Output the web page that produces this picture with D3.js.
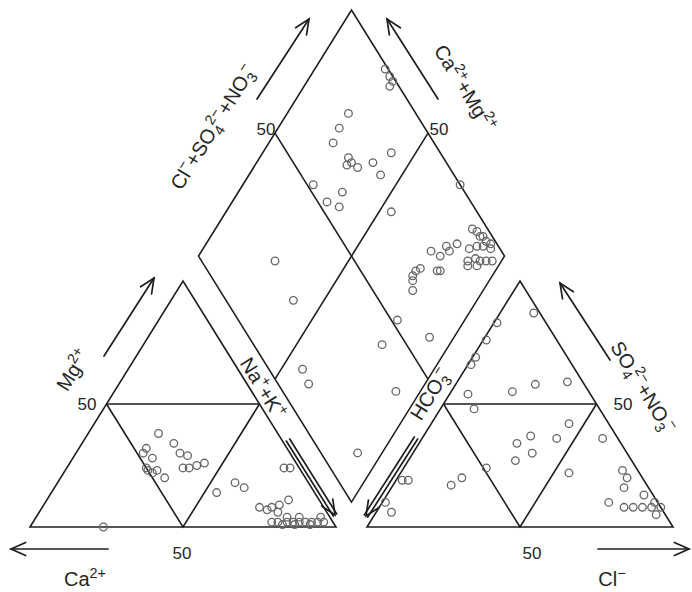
<!DOCTYPE html>
<html>
<head>
<meta charset="utf-8">
<script src="https://cdn.jsdelivr.net/npm/d3@7"></script>
<style>
  html, body { margin: 0; padding: 0; background: #fff; }
  svg { display: block; }
  text { font-family: "Liberation Sans", Arial, sans-serif; fill: #262626; }
</style>
</head>
<body>
<svg id="chart" width="692" height="592"></svg>
<script>
// Cation composition of each sample, % meq: [Ca2+, Mg2+]; Na+ + K+ is the remainder
const cations = [
  [39,38],[46,32],[36,34],[36,30],[34,29],[48,30],[46,28],[50,23],[49,22],[47,23],
  [50,24],[46,20],[38,24],[36,24],[33,25],[30,26],[32,14],[24,18],[22,16],[5,24],
  [3,24],[10,11],[19,7],[17,8],[16,6],[21,8],[14,9],[76,0],[3,4],[20,2],
  [18,2],[15,2],[13,2],[11,2],[9,2],[7,2],[5,2],[3,2],[13,1],[17,1],
  [8,1],[14,4],[10,4]
];
// Anion composition, % meq: [Cl-, SO4 2- + NO3-]; HCO3- is the remainder
const anions = [
  [11,87],[1,83],[1,76],[1,69],[1,66],[36,59],[26,58],[20,55],[6,54],[11,48],
  [45,42],[59,36],[35,37],[44,36],[32,34],[35,27],[39,30],[55,22],[27,24],[21,20],
  [19,17],[4,19],[2,19],[1,10],[5,6],[72,23],[75,20],[76,16],[74,10],[80,8],
  [83,8],[86,8],[89,8],[84,13],[89,10],[92,8],[92,5]
];
// Diamond field, %: [Ca2+ + Mg2+, Cl- + SO4 2- + NO3-]
const diamond = [
  [77,99],[74,99],[72,99],[72,97],[80,78],[80,72],[79,67],[71,69],[69,69],[66,70],
  [70,67],[62,76],[58,84],[57,76],[77,52],[66,60],[69,53],[64,56],[46,72],[29,100],
  [74,24],[60,22],[43,11],[38,10],[22,42],[22,52],[23,63],[8,59],[8,37],[8,12],
  [25,65],[26,68],[25,70],[26,66],[18,76],[25,77],[21,79],[21,83],[18,87],[19,83],
  [16,95],[14,96],[12,96],[11,97],[9,97],[7,98],[13,90],[11,93],[9,95],[6,97],
  [11,87],[9,90],[7,91],[5,93],[3,95],[10,86],[7,89],[19,75]
];
const tickLabels = ["50"];

// ---- layout ----
const side = 306, tall = 246, base = 527;
const leftX = 30, rightX = 367;
const bx = (leftX + side + rightX) / 2;
const by = base - (rightX - leftX - side) / 2 * tall / (side / 2);

const svg = d3.select("#chart");

// scales
const xCat = d3.scaleLinear().domain([0, 100]).range([leftX, leftX + side]);
const xAn  = d3.scaleLinear().domain([0, 100]).range([rightX, rightX + side]);
const yTri = d3.scaleLinear().domain([0, 100]).range([base, base - tall]);
const xDia = d3.scaleLinear().domain([-100, 100]).range([bx - side / 2, bx + side / 2]);
const yDia = d3.scaleLinear().domain([0, 200]).range([by, by - 2 * tall]);

const catXY = (ca, mg) => [xCat((100 - ca - mg) + mg / 2), yTri(mg)];
const anXY  = (cl, so) => [xAn(cl + so / 2), yTri(so)];
const diaXY = (cm, cs) => [xDia(cs - cm), yDia(cm + cs)];

const line = d3.line();
const frame = svg.append("g")
  .attr("fill", "none").attr("stroke", "#1e1e1e").attr("stroke-width", 1.6)
  .attr("stroke-linejoin", "miter");

// cation triangle
frame.append("path").attr("d", line([catXY(100,0), catXY(0,100), catXY(0,0)]) + "Z");
frame.append("path").attr("d", line([catXY(50,50), catXY(0,50)]));
frame.append("path").attr("d", line([catXY(50,50), catXY(50,0), catXY(0,50)]));
// anion triangle
frame.append("path").attr("d", line([anXY(0,0), anXY(0,100), anXY(100,0)]) + "Z");
frame.append("path").attr("d", line([anXY(0,50), anXY(50,50)]));
frame.append("path").attr("d", line([anXY(0,50), anXY(50,0), anXY(50,50)]));
// diamond
frame.append("path").attr("d", line([diaXY(0,0), diaXY(100,0), diaXY(100,100), diaXY(0,100)]) + "Z");
frame.append("path").attr("d", line([diaXY(50,0), diaXY(50,100)]));
frame.append("path").attr("d", line([diaXY(0,50), diaXY(100,50)]));

// samples
const pts = svg.append("g")
  .attr("fill", "none").attr("stroke", "#666").attr("stroke-width", 1.3);
const drawPts = (data, f) => pts.selectAll(null).data(data).enter().append("circle")
  .attr("cx", d => f(d[0], d[1])[0]).attr("cy", d => f(d[0], d[1])[1]).attr("r", 3.8);
drawPts(cations, catXY);
drawPts(anions, anXY);
drawPts(diamond, diaXY);

// ---- arrows ----
const arrows = svg.append("g").attr("fill", "none").attr("stroke", "#1e1e1e")
  .attr("stroke-width", 1.7).attr("stroke-linecap", "round");
function arrow(x1, y1, x2, y2, double) {
  const ang = Math.atan2(y2 - y1, x2 - x1), hl = 16, ha = 0.42;
  if (double) {
    const nx = -Math.sin(ang) * 2, ny = Math.cos(ang) * 2;
    arrows.append("path").attr("d", line([[x1 + nx, y1 + ny], [x2 + nx, y2 + ny]]));
    arrows.append("path").attr("d", line([[x1 - nx, y1 - ny], [x2 - nx, y2 - ny]]));
  } else {
    arrows.append("path").attr("d", line([[x1, y1], [x2, y2]]));
  }
  arrows.append("path").attr("d", line([
    [x2 - hl * Math.cos(ang - ha), y2 - hl * Math.sin(ang - ha)],
    [x2, y2],
    [x2 - hl * Math.cos(ang + ha), y2 - hl * Math.sin(ang + ha)]
  ]));
}
arrow(104, 356, 154, 278);        // Mg2+
arrow(108, 549, 11, 549);         // Ca2+
arrow(288, 440, 335, 515, true);  // Na+ + K+
arrow(416, 438, 366, 516, true);  // HCO3-
arrow(610, 360, 560, 283);        // SO4 2- + NO3-
arrow(598, 549, 689, 549);        // Cl-
arrow(257, 99, 309, 19);          // Cl- + SO4 2- + NO3-
arrow(438, 99, 387, 19);          // Ca2+ + Mg2+

// ---- text ----
const fs = 20;
function rich(x, y, rot, parts, size) {
  size = size || fs;
  const t = svg.append("text")
    .attr("transform", `translate(${x},${y}) rotate(${rot})`)
    .attr("text-anchor", "middle").attr("font-size", size).attr("dy", "0.35em");
  let shift = 0;
  parts.forEach(p => {
    const [str, kind, back] = p;
    const sp = t.append("tspan").text(str);
    let target = 0;
    if (kind === "sup") { target = -0.42 * size; sp.attr("font-size", size * 0.72); }
    else if (kind === "sub") { target = 0.25 * size; sp.attr("font-size", size * 0.72); }
    if (target !== shift) { sp.attr("dy", target - shift); shift = target; }
    if (back) sp.attr("dx", -back * size);
  });
  return t;
}
const deg = Math.atan2(tall, side / 2) * 180 / Math.PI;

rich(73, 370, -deg, [["Mg"], ["2+", "sup"]]);
rich(85, 579, 0, [["Ca"], ["2+", "sup"]]);
rich(263, 388, deg, [["Na"], ["+", "sup"], ["+K"], ["+", "sup"]]);
rich(430, 394, -deg, [["HCO"], ["3", "sub"], ["−", "sup", 0.2]]);
rich(643, 387, deg, [["SO"], ["4", "sub"], ["2−", "sup", 0.2], ["+NO"], ["3", "sub"], ["−", "sup", 0.2]]);
rich(612, 579, 0, [["Cl"], ["−", "sup"]]);
rich(213, 127, -deg, [["Cl"], ["−", "sup"], ["+SO"], ["4", "sub"], ["2−", "sup", 0.2], ["+NO"], ["3", "sub"], ["−", "sup", 0.2]]);
rich(465, 88, deg, [["Ca"], ["2+", "sup"], ["+Mg"], ["2+", "sup"]]);

// 50 % tick labels
const ticks = svg.append("g").attr("font-size", 17).attr("text-anchor", "middle");
const tickPos = [[87, 404], [182, 553], [532, 553], [623, 404], [266, 129], [439, 129]];
tickPos.forEach(p => ticks.append("text").attr("x", p[0]).attr("y", p[1]).attr("dy", "0.35em").text(tickLabels[0]));
</script>
</body>
</html>
